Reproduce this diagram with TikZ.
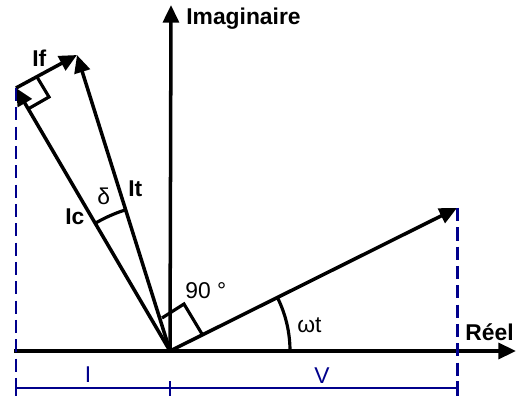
\documentclass[tikz,border=0pt]{standalone}
\usepackage{fontspec}
\setmainfont{Liberation Sans}
\usetikzlibrary{arrows.meta}
\definecolor{navy}{RGB}{0,0,140}

\begin{document}
\begin{tikzpicture}[x=0.02cm,y=-0.02cm,
  vec/.style={line width=2pt,-{Triangle[length=10pt,width=9pt]}},
  angmark/.style={line width=1.8pt,line join=miter},
  dimline/.style={navy,line width=1.7pt},
  lbl/.style={font=\bfseries\fontsize{13}{15}\selectfont,inner sep=0pt,anchor=base west},
  txt/.style={font=\fontsize{13}{15}\selectfont,inner sep=0pt,anchor=base west}]
\useasboundingbox (0,0) rectangle (516,401);
\coordinate (O) at (170,351);
\coordinate (V) at (457,208);
\coordinate (Ic) at (16,88);
\coordinate (It) at (77,55);
\coordinate (ReLeft) at (14,351);
\coordinate (ReRight) at (516,351);
\coordinate (ImTop) at (171,5);
\coordinate (DimL) at (16,388);
\coordinate (DimR) at (457,388);
% axes and phasors
\draw[vec] (ReLeft) -- (ReRight);
\draw[vec] (O) -- (ImTop);
\draw[vec] (O) -- (V);
\draw[vec] (O) -- (Ic);
\draw[vec] (O) -- (It);
\draw[vec] (Ic) -- (It);
% right angles and arcs
\draw[angmark] (202,334) -- (184,304) -- (162,318);
\draw[angmark] (28,109) -- (49,97) -- (37,77);
\draw[line width=1.8pt] ([shift={(-120.3:148)}]O) arc[start angle=-120.3,end angle=-107.4,radius=148];
\draw[line width=1.8pt] ([shift={(0:120)}]O) arc[start angle=0,end angle=-26.6,radius=120];
% projections
\draw[dimline,dash pattern=on 7.5pt off 3.5pt] (Ic) -- (16,396);
\draw[dimline,dash pattern=on 7.5pt off 3.5pt] (V) -- (457,401);
\draw[dimline] (DimL) -- (DimR);
\foreach \x in {16,170,457} {
   \draw[dimline] (\x,381) -- (\x,396);
}
% labels
\node[lbl] (imlbl) at (186,25) {Imaginaire};
\node[lbl] (relbl) at (465,340) {Réel};
\node[lbl] (iflbl) at (32,67) {If};
\node[lbl] (itlbl) at (128,197) {It};
\node[lbl] (iclbl) at (65,225) {Ic};
\node[txt] (deltalbl) at (97,205) {δ};
\node[txt] (anglbl) at (185,298) {90 °};
\node[txt] (wtlbl) at (297,332) {ωt};
\node[txt,navy,anchor=base] (vlbl) at (322,383) {V};
\node[txt,navy,anchor=base] (ilbl) at (88,382) {I};
\end{tikzpicture}
\end{document}
